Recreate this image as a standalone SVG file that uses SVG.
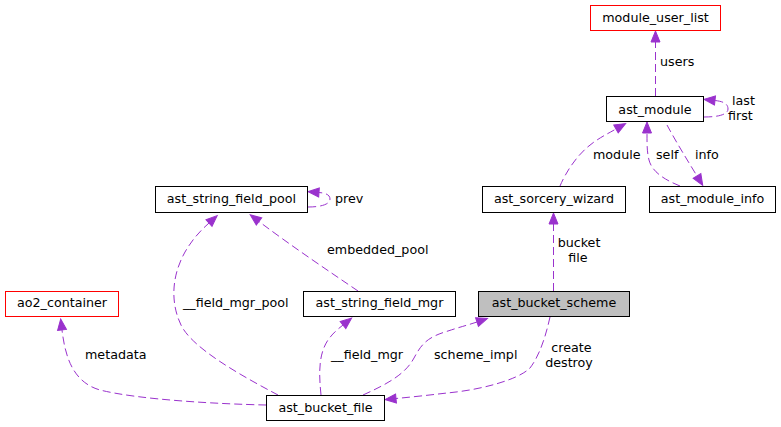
<svg xmlns="http://www.w3.org/2000/svg" width="781" height="427" viewBox="0 0 781 427">
<style>
text{font-family:"DejaVu Sans","Liberation Sans",sans-serif;font-size:12.7px;fill:#000}
.n rect{fill:#fff;stroke:#000;stroke-width:1}
.n text{text-anchor:middle}
.n.red rect{stroke:#ff0000}
.n.cur rect{fill:#bfbfbf}
.e path{fill:none;stroke:#9a32cd;stroke-width:1;stroke-dasharray:8,4;marker-end:url(#ah)}
.lbl text.m{text-anchor:middle}
</style>
<defs>
<marker id="ah" markerUnits="userSpaceOnUse" markerWidth="14" markerHeight="12" refX="0" refY="0" viewBox="0 -6 13 12" orient="auto" overflow="visible">
<path d="M0,-4.5 L11,0 L0,4.5 Z" fill="#9a32cd" stroke="#9a32cd" stroke-width="1" stroke-dasharray="none"/>
</marker>
</defs>
<rect width="781" height="427" fill="#fff"/>
<g id="edges" class="e">
<path d="M655.5,96 L655.5,42"/>
<path d="M704,117 C720,117 728,114 728,109 C728,104 724,101.5 715,100.5"/>
<path d="M560,186 C566,172 578,152 597,140 C603,136 608,133.5 616,129"/>
<path d="M680,186 C665,180 652,172 649,160 C647,152 647,145 647,133"/>
<path d="M667,125 C675,140 686,158 697,176"/>
<path d="M553.5,291 L553.5,224"/>
<path d="M308,207 C322,207 330,204 330,199 C330,195 326,193 319,192.5"/>
<path d="M358,291 C330,272 290,245 259,221.5"/>
<path d="M278,395 C240,375 192,348 181,325 C170,302 172,275 185,252 C192,240 199,232 209,223"/>
<path d="M321,395 C319,375 318,355 328,340 C333,333 338,329 343,325"/>
<path d="M363,395 C385,385 405,375 414,358 C422,343 428,337 448,331 C460,327 468,325 477,322"/>
<path d="M550,317 C546,335 540,355 530,368 C518,380 480,390 447,393 C430,395 412,397 396,398.5"/>
<path d="M266,405 C220,404 140,400 100,390 C72,382 65,355 62,330"/>
</g>
<g id="edge-labels" class="lbl">
<text x="660" y="66">users</text>
<text x="732" y="104.5">last</text>
<text x="728" y="119.5">first</text>
<text x="593" y="158.5">module</text>
<text x="656" y="158.5">self</text>
<text x="695" y="158.5">info</text>
<text class="m" x="579" y="246.5">bucket</text>
<text class="m" x="578" y="261.5">file</text>
<text x="335" y="202.5">prev</text>
<text x="327" y="254">embedded_pool</text>
<text x="183" y="306.5">__field_mgr_pool</text>
<text x="85" y="358.5">metadata</text>
<text x="331" y="358.5">__field_mgr</text>
<text x="434" y="358.5">scheme_impl</text>
<text class="m" x="571.5" y="351.5">create</text>
<text class="m" x="569" y="366.5">destroy</text>
</g>
<g id="module_user_list" class="n red"><rect x="590.5" y="5.5" width="130" height="25"/><text x="655.5" y="22">module_user_list</text></g>
<g id="ast_module" class="n"><rect x="606.5" y="96.5" width="97" height="25"/><text x="655" y="113.5">ast_module</text></g>
<g id="ast_sorcery_wizard" class="n"><rect x="482.5" y="186.5" width="143" height="26"/><text x="554" y="203">ast_sorcery_wizard</text></g>
<g id="ast_module_info" class="n"><rect x="649.5" y="186.5" width="126" height="26"/><text x="712.5" y="203">ast_module_info</text></g>
<g id="ast_string_field_pool" class="n"><rect x="155.5" y="186.5" width="152" height="26"/><text x="231.5" y="203">ast_string_field_pool</text></g>
<g id="ast_string_field_mgr" class="n"><rect x="303.5" y="291.5" width="152" height="25"/><text x="379.5" y="307">ast_string_field_mgr</text></g>
<g id="ast_bucket_scheme" class="n cur"><rect x="478.5" y="291.5" width="151" height="25"/><text x="554" y="307">ast_bucket_scheme</text></g>
<g id="ao2_container" class="n red"><rect x="5.5" y="291.5" width="113" height="25"/><text x="62" y="307">ao2_container</text></g>
<g id="ast_bucket_file" class="n"><rect x="266.5" y="395.5" width="118" height="25"/><text x="325.5" y="412">ast_bucket_file</text></g>
</svg>
